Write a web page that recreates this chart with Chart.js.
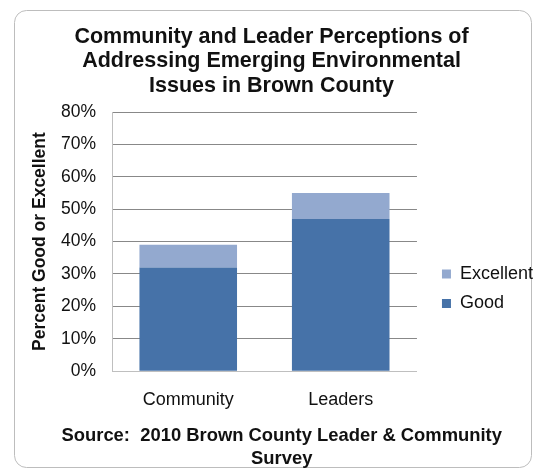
<!DOCTYPE html>
<html>
<head>
<meta charset="utf-8">
<script src="https://cdn.jsdelivr.net/npm/chart.js@4"></script>
<style>
  html, body { margin: 0; padding: 0; background: #fff; }
  #wrap { width: 546px; height: 470px; position: relative; }
</style>
</head>
<body>
<div id="wrap"><canvas id="chart"></canvas></div>
<script>
// chart data
const groups = ['Community', 'Leaders'];
const goodPct = [32, 47];
const excellentPct = [7, 8];
const titleLines = ['Community and Leader Perceptions of', 'Addressing Emerging Environmental', 'Issues in Brown County'];
const sourceLines = ['\u00a0\u00a0\u00a0\u00a0Source:  2010 Brown County Leader & Community', '\u00a0\u00a0\u00a0\u00a0Survey'];

const fontFamily = '"Liberation Sans", Arial, sans-serif';

// rounded frame around the whole chart
const framePlugin = {
    id: 'frame',
    beforeDraw(chart) {
        const ctx = chart.ctx;
        ctx.save();
        ctx.strokeStyle = '#bdbdbd';
        ctx.lineWidth = 1;
        ctx.beginPath();
        ctx.roundRect(14.5, 10.5, 517, 457, 12);
        ctx.stroke();
        ctx.restore();
    }
};

const ctx = document.getElementById('chart').getContext('2d');
new Chart(ctx, {
    type: 'bar',
    data: {
        labels: groups,
        datasets: [
            {
                label: 'Good',
                data: goodPct,
                backgroundColor: '#4672a8',
                categoryPercentage: 1,
                barPercentage: 0.64
            },
            {
                label: 'Excellent',
                data: excellentPct,
                backgroundColor: '#93a9cf',
                categoryPercentage: 1,
                barPercentage: 0.64
            }
        ]
    },
    options: {
        responsive: true,
        maintainAspectRatio: false,
        animation: false,
        layout: {
            padding: { left: 0, right: 3, top: 24.5, bottom: 0 }
        },
        scales: {
            x: {
                stacked: true,
                grid: { display: false, drawTicks: false },
                border: { color: '#bfbfbf' },
                ticks: {
                    color: '#111',
                    font: { family: fontFamily, size: 18 },
                    padding: 18
                }
            },
            y: {
                stacked: true,
                min: 0,
                max: 80,
                ticks: {
                    stepSize: 10,
                    color: '#111',
                    padding: 16,
                    font: { family: fontFamily, size: 17.5 },
                    callback: v => v + '%'
                },
                grid: { color: '#888888', drawTicks: false },
                border: { color: '#bfbfbf' },
                title: {
                    display: true,
                    text: 'Percent Good or Excellent',
                    color: '#111',
                    padding: { top: 29.5, bottom: 0 },
                    font: { family: fontFamily, size: 17.5, weight: 'bold' }
                },
                afterFit: function (scale) {
                    scale.width = 112;
                }
            },
            // empty spacer between the plot and the legend
            gap: {
                position: 'right',
                display: true,
                grid: { display: false, drawTicks: false },
                border: { display: false },
                ticks: { display: false },
                afterFit: function (scale) {
                    scale.width = 13.5;
                }
            }
        },
        plugins: {
            title: {
                display: true,
                text: titleLines,
                color: '#111',
                font: { family: fontFamily, size: 21.5, weight: 'bold', lineHeight: 1.14 },
                padding: { top: 0, bottom: 14 }
            },
            subtitle: {
                display: true,
                position: 'bottom',
                text: sourceLines,
                color: '#111',
                font: { family: fontFamily, size: 18.4, weight: 'bold', lineHeight: 1.23 },
                padding: { top: -4, bottom: 0 }
            },
            legend: {
                position: 'right',
                reverse: true,
                maxWidth: 140,
                title: {
                    display: true,
                    text: ' ',
                    font: { size: 10 },
                    padding: { top: 0, bottom: 71 }
                },
                labels: {
                    boxWidth: 9,
                    boxHeight: 9,
                    color: '#111',
                    padding: 11.5,
                    font: { family: fontFamily, size: 18 }
                }
            },
            tooltip: { enabled: false }
        }
    },
    plugins: [framePlugin]
});
</script>
</body>
</html>
